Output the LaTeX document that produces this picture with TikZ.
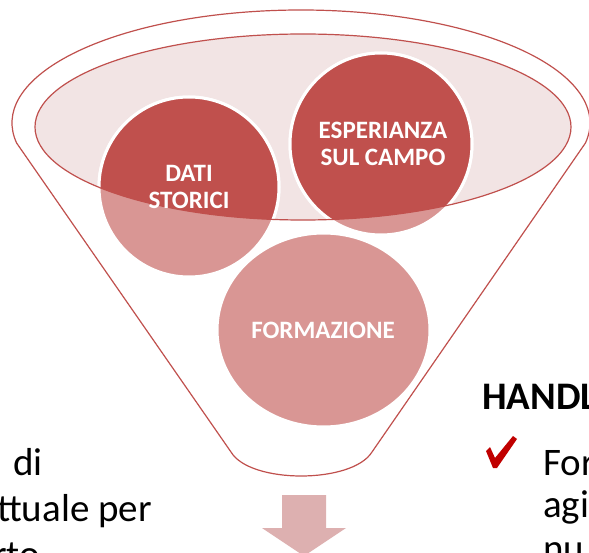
\documentclass[tikz,border=0pt]{standalone}
\usepackage{fontspec}
\setmainfont{Carlito}
\definecolor{funnelred}{HTML}{C0504D}
\definecolor{lightred}{HTML}{D99694}
\definecolor{rimpink}{HTML}{F2E4E4}
\definecolor{arrowpink}{HTML}{DDB0B0}
\definecolor{tickred}{HTML}{C00000}
\begin{document}
\begin{tikzpicture}[x=1pt,y=-1pt,
    balltext/.style={text=white,font=\fontsize{25}{27}\selectfont\bfseries,align=center},
    body/.style={font=\fontsize{39}{45}\selectfont,anchor=base west,inner sep=0pt},
    ball/.style={draw=white,line width=3pt},
    rim/.style={draw=funnelred,line width=1.2pt}]
  \useasboundingbox (0,0) rectangle (589,553);
  \clip (0,0) rectangle (589,553);
  % funnel
  \filldraw[rim,fill=white]
    (16.6,143) arc[start angle=169.8,end angle=370.2,x radius=289,y radius=113]
    -- (372,452) .. controls (352,484) and (250,484) .. (231,452) -- cycle;
  \fill[rimpink] (303,127) ellipse[x radius=268,y radius=93];
  % balls
  \filldraw[ball,fill=lightred] (189,187) circle[radius=90];
  \filldraw[ball,fill=lightred] (381,144) circle[radius=91];
  \filldraw[ball,fill=lightred] (323.5,330) ellipse[x radius=106.5,y radius=97];
  \begin{scope}
    \clip (303,127) ellipse[x radius=268,y radius=93];
    \filldraw[ball,fill=funnelred] (189,187) circle[radius=90];
    \filldraw[ball,fill=funnelred] (381,144) circle[radius=91];
  \end{scope}
  \draw[rim] (303,127) ellipse[x radius=268,y radius=93];
  \node[balltext] (dati) at (189,187) {DATI\\STORICI};
  \node[balltext] (esp) at (383,144) {ESPERIANZA\\SUL CAMPO};
  \node[balltext] (form) at (323,330) {FORMAZIONE};
  % arrow
  \fill[arrowpink] (282,495) -- (326,495) -- (326,528) -- (346,528)
    -- (304,556) -- (262,528) -- (282,528) -- cycle;
  % text
  \node[body] (di) at (13,475) {di};
  \node[body] (ttuale) at (-3,521) {ttuale per};
  \node[body] (rto) at (-7,567) {rto};
  \node[body,font=\fontsize{39}{45}\selectfont\bfseries] (handl) at (482,409) {HANDL};
  \fill[tickred] (486,451) -- (490,447) -- (495,458) -- (513,436) -- (517,439)
    -- (497,468) -- (493,468) -- cycle;
  \node[body] (for) at (543,475) {For};
  \node[body] (agi) at (543,517) {agi};
  \node[body] (nu) at (543,561) {nu};
\end{tikzpicture}
\end{document}
